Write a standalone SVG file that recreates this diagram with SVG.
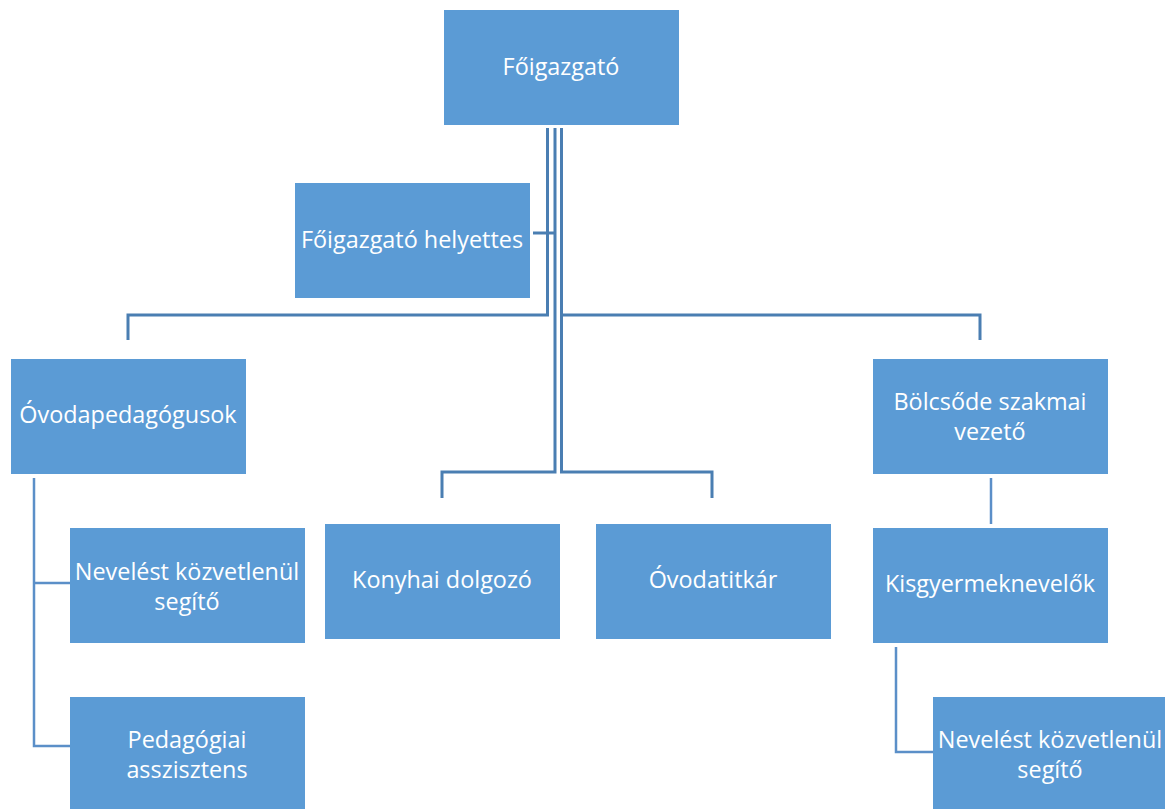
<svg xmlns="http://www.w3.org/2000/svg" width="1165" height="809" viewBox="0 0 1165 809">
<style>
.box{fill:#5B9BD5;}
.t{fill:#ffffff;font-family:"Open Sans",Lato,"Liberation Sans",sans-serif;font-size:23.4px;text-anchor:middle;}
.c{fill:none;stroke:#4A7EB2;stroke-width:3;}
.c2{fill:none;stroke:#5B8FC8;stroke-width:2.5;}
</style>
<rect width="1165" height="809" fill="#ffffff"/>
<g id="connectors">
<path class="c" d="M547.5,128 V315 H128 V340"/>
<path class="c" d="M555,128 V472 H442 V498"/>
<path class="c" d="M561.5,128 V472 H712 V498"/>
<path class="c" d="M561.5,315 H980 V340"/>
<path class="c" d="M533,233 H555"/>
<path class="c2" d="M34,478 V746 H70 M34,583 H70"/>
<path class="c2" d="M991,478 V524"/>
<path class="c2" d="M896,647 V752 H933"/>
</g>
<g id="n1"><rect class="box" x="444" y="10" width="235" height="115"/><text class="t" x="561" y="75">Főigazgató</text></g>
<g id="n2"><rect class="box" x="295" y="183" width="235" height="115"/><text class="t" x="412" y="248">Főigazgató helyettes</text></g>
<g id="n3"><rect class="box" x="11" y="359" width="235" height="115"/><text class="t" x="128" y="423">Óvodapedagógusok</text></g>
<g id="n4"><rect class="box" x="873" y="359" width="235" height="115"/><text class="t" x="990" y="410">Bölcsőde szakmai</text><text class="t" x="990" y="440">vezető</text></g>
<g id="n5"><rect class="box" x="70" y="528" width="235" height="115"/><text class="t" x="187" y="580">Nevelést közvetlenül</text><text class="t" x="187" y="610">segítő</text></g>
<g id="n6"><rect class="box" x="325" y="524" width="235" height="115"/><text class="t" x="442" y="588">Konyhai dolgozó</text></g>
<g id="n7"><rect class="box" x="596" y="524" width="235" height="115"/><text class="t" x="713" y="588">Óvodatitkár</text></g>
<g id="n8"><rect class="box" x="873" y="528" width="235" height="115"/><text class="t" x="990" y="592">Kisgyermeknevelők</text></g>
<g id="n9"><rect class="box" x="70" y="697" width="235" height="115"/><text class="t" x="187" y="748">Pedagógiai</text><text class="t" x="187" y="778">asszisztens</text></g>
<g id="n10"><rect class="box" x="933" y="697" width="235" height="115"/><text class="t" x="1050" y="748">Nevelést közvetlenül</text><text class="t" x="1050" y="778">segítő</text></g>
</svg>
